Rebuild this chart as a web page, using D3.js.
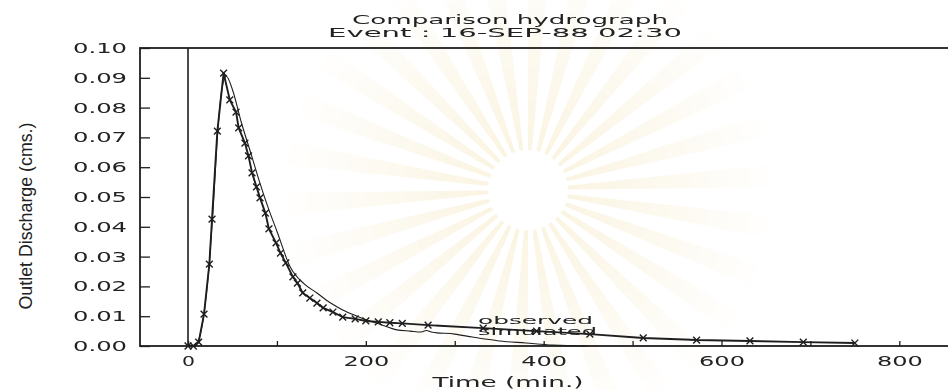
<!DOCTYPE html>
<html>
<head>
<meta charset="utf-8">
<script src="https://cdn.jsdelivr.net/npm/d3@7"></script>
<style>
  html, body { margin: 0; padding: 0; background: #fff; }
  svg { display: block; }
  text { font-family: "DejaVu Sans", sans-serif; fill: #222; }
</style>
</head>
<body>
<svg id="chart" width="948" height="390"></svg>
<script>
// Observed outlet discharge (cms) against time (min)
const timeObs = [0, 6, 12, 18, 24, 27, 33, 40, 47, 54, 57, 64, 68, 72, 77, 81, 87, 91, 99, 104, 110, 118, 123, 129, 137, 145, 152, 163, 174, 188, 200, 214, 227, 241, 270, 332, 392, 452, 512, 572, 632, 692, 750];
const flowObs = [0, 0, 0.0013, 0.0107, 0.0275, 0.0426, 0.0721, 0.0916, 0.0826, 0.0785, 0.0732, 0.0681, 0.0638, 0.0581, 0.0534, 0.0497, 0.0446, 0.0393, 0.0346, 0.0312, 0.0279, 0.0232, 0.0211, 0.0178, 0.0161, 0.0144, 0.0128, 0.0114, 0.0097, 0.0091, 0.0084, 0.0081, 0.0078, 0.0076, 0.0070, 0.0060, 0.0050, 0.0040, 0.0027, 0.0020, 0.0017, 0.0013, 0.0010];

// Simulated outlet discharge (cms)
const timeSim = [0, 8, 12, 18, 24, 28, 33, 38, 43, 50, 60, 72, 80, 90, 100, 115, 130, 145, 160, 174, 190, 201, 215, 235, 250, 262, 268, 275, 300, 320, 350, 380, 410, 450];
const flowSim = [0, 0, 0.002, 0.011, 0.028, 0.045, 0.070, 0.086, 0.0905, 0.086, 0.075, 0.0634, 0.0555, 0.0465, 0.0385, 0.0265, 0.0210, 0.0178, 0.0145, 0.0121, 0.0100, 0.0087, 0.0074, 0.0054, 0.0050, 0.0047, 0.0052, 0.0046, 0.0040, 0.0030, 0.0017, 0.0010, 0.0003, 0];

const xTicks = [0, 100, 200, 300, 400, 500, 600, 700, 800];
const xLabelled = [0, 200, 400, 600, 800];
const yTicks = [0, 0.01, 0.02, 0.03, 0.04, 0.05, 0.06, 0.07, 0.08, 0.09, 0.10];

const titleLines = ["Comparison hydrograph", "Event : 16-SEP-88 02:30"];
const xTitle = "Time (min.)";
const yTitle = "Outlet Discharge (cms.)";
const seriesNames = ["observed", "simulated"];

const svg = d3.select("#chart");
const ink = "#1e1e1e";

// faint emblem rays behind the plot
const defs = svg.append("defs");
const rg = defs.append("radialGradient").attr("id", "fade")
  .attr("cx", 528).attr("cy", 190).attr("r", 250).attr("gradientUnits", "userSpaceOnUse");
rg.append("stop").attr("offset", "0%").attr("stop-color", "#fff").attr("stop-opacity", 0.4);
rg.append("stop").attr("offset", "55%").attr("stop-color", "#fff").attr("stop-opacity", 0.18);
rg.append("stop").attr("offset", "100%").attr("stop-color", "#fff").attr("stop-opacity", 0);
defs.append("mask").attr("id", "rayMask")
  .append("rect").attr("width", 948).attr("height", 390).attr("fill", "url(#fade)");
const rays = svg.append("g").attr("mask", "url(#rayMask)");
const nRays = 30;
const arc = d3.arc().innerRadius(40).outerRadius(300);
rays.selectAll("path").data(d3.range(nRays)).join("path")
  .attr("transform", "translate(528,190)")
  .attr("d", i => arc({startAngle: (i / nRays) * 2 * Math.PI, endAngle: ((i + 0.45) / nRays) * 2 * Math.PI}))
  .attr("fill", "#f1dfa8");

const x = d3.scaleLinear().domain([-54, 857]).range([140, 950]);
const y = d3.scaleLinear().domain([0, 0.10]).range([346, 48]);

// frame
svg.append("rect")
  .attr("x", x.range()[0]).attr("y", y.range()[1])
  .attr("width", x.range()[1] - x.range()[0]).attr("height", y.range()[0] - y.range()[1])
  .attr("fill", "none").attr("stroke", ink).attr("stroke-width", 1.8);

// vertical reference at time zero
svg.append("line")
  .attr("x1", x(0)).attr("x2", x(0)).attr("y1", y.range()[1]).attr("y2", y.range()[0])
  .attr("stroke", ink).attr("stroke-width", 1.6);

// axes
const xAxis = d3.axisBottom(x).tickValues(xTicks).tickSize(-5).tickPadding(10)
  .tickFormat(d => xLabelled.includes(d) ? String(d) : "");
const gx = svg.append("g").attr("transform", `translate(0,${y.range()[0]})`).call(xAxis);
gx.select(".domain").remove();
gx.selectAll(".tick line").attr("stroke", ink).attr("stroke-width", 1.3);
gx.selectAll(".tick text")
  .attr("font-size", 14).attr("fill", ink).style("font-family", "DejaVu Sans, sans-serif")
  .each(function(d) {
    const s = this.textContent;
    if (s) d3.select(this).attr("textLength", s.length === 1 ? 13 : s.length * 15.3).attr("lengthAdjust", "spacingAndGlyphs");
  });

const yAxis = d3.axisLeft(y).tickValues(yTicks).tickSize(-10).tickPadding(13).tickFormat(d3.format(".2f"));
const gy = svg.append("g").attr("transform", `translate(${x.range()[0]},0)`).call(yAxis);
gy.select(".domain").remove();
gy.selectAll(".tick line").attr("stroke", ink).attr("stroke-width", 1.3);
gy.selectAll(".tick text")
  .attr("font-size", 14).attr("fill", ink).style("font-family", "DejaVu Sans, sans-serif")
  .attr("textLength", 54).attr("lengthAdjust", "spacingAndGlyphs");

// titles
svg.append("text").attr("x", 510).attr("y", 24).attr("text-anchor", "middle")
  .attr("font-size", 11.5).attr("textLength", 316).attr("lengthAdjust", "spacingAndGlyphs")
  .text(titleLines[0]);
svg.append("text").attr("x", 505).attr("y", 37).attr("text-anchor", "middle")
  .attr("font-size", 11.5).attr("textLength", 354).attr("lengthAdjust", "spacingAndGlyphs")
  .text(titleLines[1]);
svg.append("text").attr("x", 508).attr("y", 387).attr("text-anchor", "middle")
  .attr("font-size", 13.5).attr("textLength", 151).attr("lengthAdjust", "spacingAndGlyphs")
  .text(xTitle);
svg.append("text").attr("transform", "translate(32,216) rotate(-90)").attr("text-anchor", "middle")
  .attr("font-size", 19).attr("textLength", 187).attr("lengthAdjust", "spacingAndGlyphs")
  .style("font-family", "Liberation Sans Narrow, Liberation Sans, sans-serif")
  .text(yTitle);

// series
const obs = timeObs.map((t, i) => [t, flowObs[i]]);
const sim = timeSim.map((t, i) => [t, flowSim[i]]);

svg.append("path").datum(sim)
  .attr("d", d3.line().x(d => x(d[0])).y(d => y(d[1])).curve(d3.curveMonotoneX))
  .attr("fill", "none").attr("stroke", ink).attr("stroke-width", 1.1);

svg.append("path").datum(obs)
  .attr("d", d3.line().x(d => x(d[0])).y(d => y(d[1])))
  .attr("fill", "none").attr("stroke", ink).attr("stroke-width", 1.9);

const m = 3.4;
svg.append("g").selectAll("path").data(obs).join("path")
  .attr("d", d => {
    const cx = x(d[0]), cy = y(d[1]);
    return `M${cx - m},${cy - m}L${cx + m},${cy + m}M${cx - m},${cy + m}L${cx + m},${cy - m}`;
  })
  .attr("stroke", ink).attr("stroke-width", 1.4).attr("fill", "none");

// series labels
svg.append("text").attr("x", 478).attr("y", 323.5).attr("font-size", 10)
  .attr("textLength", 115).attr("lengthAdjust", "spacingAndGlyphs").text(seriesNames[0]);
svg.append("text").attr("x", 478).attr("y", 335).attr("font-size", 10)
  .attr("textLength", 119).attr("lengthAdjust", "spacingAndGlyphs").text(seriesNames[1]);
</script>
</body>
</html>
